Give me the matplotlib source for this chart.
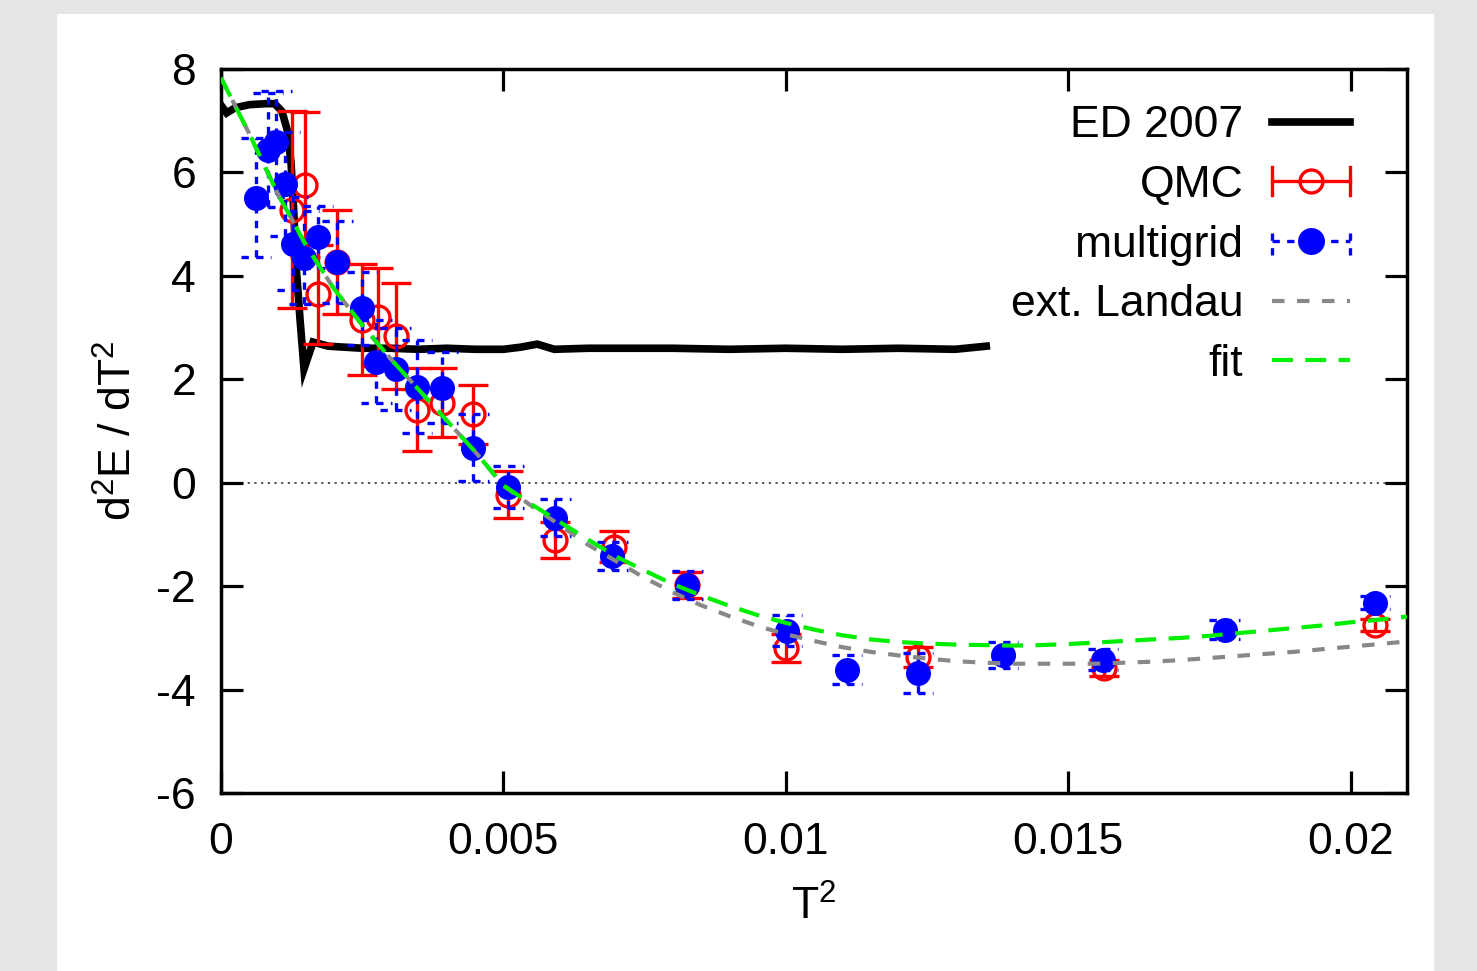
import matplotlib
matplotlib.use("Agg")
import matplotlib.pyplot as plt
from matplotlib.lines import Line2D
from matplotlib.patches import Rectangle
from matplotlib.legend_handler import HandlerBase

plt.rcParams['font.family'] = ['Liberation Sans', 'DejaVu Sans']
plt.rcParams['mathtext.fontset'] = 'custom'
plt.rcParams['mathtext.rm'] = 'Liberation Sans'
plt.rcParams['mathtext.it'] = 'Liberation Sans:italic'
plt.rcParams['axes.unicode_minus'] = False
plt.rcParams['font.size'] = 32

# ---- exact diagonalisation (2007) ----
ed_x = [0.0, 0.0001, 0.00025, 0.0005, 0.0008, 0.00095, 0.00108, 0.00117, 0.00124,
        0.00129, 0.00133, 0.00137, 0.0014, 0.00147, 0.00163, 0.0019, 0.0025, 0.003,
        0.0035, 0.004, 0.0045, 0.005, 0.0053, 0.0056, 0.0059, 0.0065, 0.007, 0.008,
        0.009, 0.01, 0.011, 0.012, 0.013, 0.01355]
ed_y = [7.3, 7.15, 7.25, 7.31, 7.33, 7.33, 7.18, 6.83, 6.19,
        5.22, 4.18, 3.6, 3.15, 2.2, 2.72, 2.64, 2.6, 2.6,
        2.58, 2.6, 2.58, 2.58, 2.62, 2.68, 2.58, 2.6, 2.6, 2.6,
        2.58, 2.6, 2.58, 2.6, 2.58, 2.64]

# ---- QMC ----
qmc_x = [0.00126, 0.00149, 0.00172, 0.00206, 0.00250, 0.00278, 0.00309, 0.00347,
         0.00392, 0.00447, 0.00509, 0.00592, 0.00695, 0.00826, 0.0100, 0.01234,
         0.01564, 0.02043]
qmc_y = [5.28, 5.76, 3.64, 4.27, 3.15, 3.21, 2.84, 1.41,
         1.55, 1.32, -0.23, -1.10, -1.24, -1.97, -3.19, -3.37,
         -3.58, -2.75]
qmc_err = [1.9, 1.4, 0.95, 1.0, 1.07, 0.95, 1.03, 0.8,
           0.66, 0.57, 0.45, 0.35, 0.3, 0.25, 0.27, 0.2,
           0.15, 0.12]

# ---- multigrid ----
mg_x = [0.00062, 0.00083, 0.00098, 0.00113, 0.00127, 0.00147, 0.00172, 0.00206,
        0.0025, 0.00275, 0.00309, 0.00347, 0.00392, 0.00447, 0.00509, 0.00592,
        0.00693, 0.00826, 0.01002, 0.01108, 0.01234, 0.01385, 0.01562, 0.01777,
        0.02043]
mg_y = [5.51, 6.44, 6.58, 5.78, 4.62, 4.35, 4.76, 4.27,
        3.37, 2.34, 2.2, 1.86, 1.84, 0.68, -0.08, -0.68,
        -1.41, -1.97, -2.86, -3.62, -3.68, -3.33, -3.42, -2.84,
        -2.32]
mg_err = [1.15, 1.1, 1.0, 1.0, 0.9, 0.9, 0.6, 0.8,
          0.7, 0.8, 0.8, 0.9, 0.68, 0.65, 0.4, 0.36,
          0.27, 0.27, 0.3, 0.28, 0.38, 0.25, 0.2, 0.18,
          0.12]

# ---- extended Landau theory and fit curves ----
curve_x = [0.0, 0.0005, 0.001, 0.0015, 0.002, 0.0025, 0.003, 0.0035, 0.004, 0.0045,
           0.005, 0.0055, 0.006, 0.0065, 0.007, 0.0075, 0.008, 0.0085, 0.009, 0.0095,
           0.01, 0.0105, 0.011, 0.0115, 0.012, 0.0125, 0.013, 0.0135, 0.014, 0.0145,
           0.015, 0.0155, 0.016, 0.0165, 0.017, 0.0175, 0.018, 0.0185, 0.019, 0.0195,
           0.02, 0.0205, 0.021]
landau_y = [7.83, 6.75, 5.6, 4.6, 3.75, 3.05, 2.4, 1.8, 1.2, 0.6,
            -0.06, -0.45, -0.82, -1.2, -1.52, -1.84, -2.12, -2.37, -2.58, -2.77,
            -2.93, -3.06, -3.18, -3.27, -3.34, -3.4, -3.45, -3.48, -3.5, -3.5,
            -3.5, -3.5, -3.48, -3.46, -3.43, -3.39, -3.35, -3.31, -3.27, -3.22,
            -3.17, -3.12, -3.07]
fit_y = [7.83, 6.75, 5.6, 4.6, 3.75, 3.05, 2.4, 1.8, 1.2, 0.6,
         -0.05, -0.42, -0.76, -1.1, -1.43, -1.7, -1.96, -2.18, -2.38, -2.56,
         -2.71, -2.84, -2.95, -3.03, -3.08, -3.11, -3.13, -3.14, -3.15, -3.14,
         -3.12, -3.09, -3.06, -3.03, -3.0, -2.96, -2.91, -2.86, -2.81, -2.76,
         -2.7, -2.65, -2.59]

x_ticks = [0, 0.005, 0.01, 0.015, 0.02]
x_tick_labels = ['0', '0.005', '0.01', '0.015', '0.02']
y_ticks = [-6, -4, -2, 0, 2, 4, 6, 8]

RED = '#ff0000'
BLUE = '#0000ff'
GREEN = '#00ee00'
GRAY = '#888888'
MG_DASH = (0, (2.2, 2.2))
LANDAU_DASH = (0, (3.0, 3.0))
FIT_DASH = (0, (5.0, 3.0))

fig = plt.figure(figsize=(14.77, 9.71), dpi=100, facecolor='#e5e5e5')
fig.patches.append(Rectangle((57 / 1477, 0), (1434 - 57) / 1477, 1 - 14 / 971,
                             transform=fig.transFigure, facecolor='white',
                             edgecolor='none', zorder=-10))
ax = fig.add_axes([221 / 1477, 1 - 793 / 971, (1407 - 221) / 1477, (793 - 69) / 971])
ax.set_facecolor('white')

ax.axhline(0, color='#444444', lw=1.3, linestyle=(0, (1.2, 2.5)), zorder=1)

ax.plot(ed_x, ed_y, color='black', lw=5.5, solid_joinstyle='miter', zorder=2)

# QMC points with solid error bars
ax.errorbar(qmc_x, qmc_y, yerr=qmc_err, fmt='o', ms=16.5, mfc='none', mec=RED,
            mew=2.4, ecolor=RED, elinewidth=2.4, capsize=11, capthick=2.4, zorder=3)

# multigrid points with dashed error bars
cap_half = 0.00027
mg_lo = [y - e for y, e in zip(mg_y, mg_err)]
mg_hi = [y + e for y, e in zip(mg_y, mg_err)]
ax.vlines(mg_x, mg_lo, mg_hi, colors=BLUE, lw=2.4, linestyles=[MG_DASH], zorder=4)
ax.hlines(mg_lo, [x - cap_half for x in mg_x], [x + cap_half for x in mg_x],
          colors=BLUE, lw=2.4, linestyles=[MG_DASH], zorder=4)
ax.hlines(mg_hi, [x - cap_half for x in mg_x], [x + cap_half for x in mg_x],
          colors=BLUE, lw=2.4, linestyles=[MG_DASH], zorder=4)
ax.plot(mg_x, mg_y, 'o', ms=17, color=BLUE, mec=BLUE, zorder=5)

ax.plot(curve_x, landau_y, color=GRAY, lw=3.0, linestyle=LANDAU_DASH, zorder=6)
ax.plot(curve_x, fit_y, color=GREEN, lw=3.0, linestyle=FIT_DASH, zorder=7)

ax.set_xlim(0, 0.021)
ax.set_ylim(-6, 8)
ax.set_xticks(x_ticks)
ax.set_xticklabels(x_tick_labels)
ax.set_yticks(y_ticks)
ax.tick_params(which='major', direction='in', length=16, width=2.3,
               top=True, right=True, labelsize=32)
ax.tick_params(axis='x', pad=21)
ax.tick_params(axis='y', pad=18)
for s in ax.spines.values():
    s.set_linewidth(2.5)

ax.set_xlabel('T$^{2}$', fontsize=32, labelpad=16)
ax.set_ylabel('d$^{2}$E / dT$^{2}$', fontsize=32, labelpad=11)


class HandlerHBar(HandlerBase):
    """Horizontal error-bar style legend key."""

    def __init__(self, color, filled, dashed):
        super().__init__()
        self.color = color
        self.filled = filled
        self.dashed = dashed

    def create_artists(self, legend, orig_handle, xdescent, ydescent,
                       width, height, fontsize, trans):
        x0 = -xdescent
        x1 = width - xdescent
        yc = height / 2 - ydescent
        h = height * 0.45
        ls = MG_DASH if self.dashed else '-'
        bar = Line2D([x0, x1], [yc, yc], color=self.color, lw=2.4, linestyle=ls)
        c1 = Line2D([x0, x0], [yc - h, yc + h], color=self.color, lw=2.4, linestyle=ls)
        c2 = Line2D([x1, x1], [yc - h, yc + h], color=self.color, lw=2.4, linestyle=ls)
        mk = Line2D([(x0 + x1) / 2], [yc], marker='o', linestyle='none',
                    ms=17 if self.filled else 16.5,
                    mfc=self.color if self.filled else 'none',
                    mec=self.color, mew=2.4)
        arts = [bar, c1, c2, mk]
        for a in arts:
            a.set_transform(trans)
        return arts


h_ed = Line2D([], [], color='black', lw=5.5)
h_qmc = Line2D([], [], color=RED)
h_mg = Line2D([], [], color=BLUE)
h_landau = Line2D([], [], color=GRAY, lw=3.0, linestyle=LANDAU_DASH)
h_fit = Line2D([], [], color=GREEN, lw=3.0, linestyle=FIT_DASH)

leg = ax.legend([h_ed, h_qmc, h_mg, h_landau, h_fit],
                ['ED 2007', 'QMC', 'multigrid', 'ext. Landau', 'fit'],
                handler_map={h_qmc: HandlerHBar(RED, False, False),
                             h_mg: HandlerHBar(BLUE, True, True)},
                loc='upper right', bbox_to_anchor=(0.952, 0.95),
                markerfirst=False, frameon=False, fontsize=32,
                handlelength=1.75, handletextpad=0.65, labelspacing=0.42,
                borderpad=0, borderaxespad=0)

fig.savefig('out.png', dpi=100, facecolor=fig.get_facecolor())
